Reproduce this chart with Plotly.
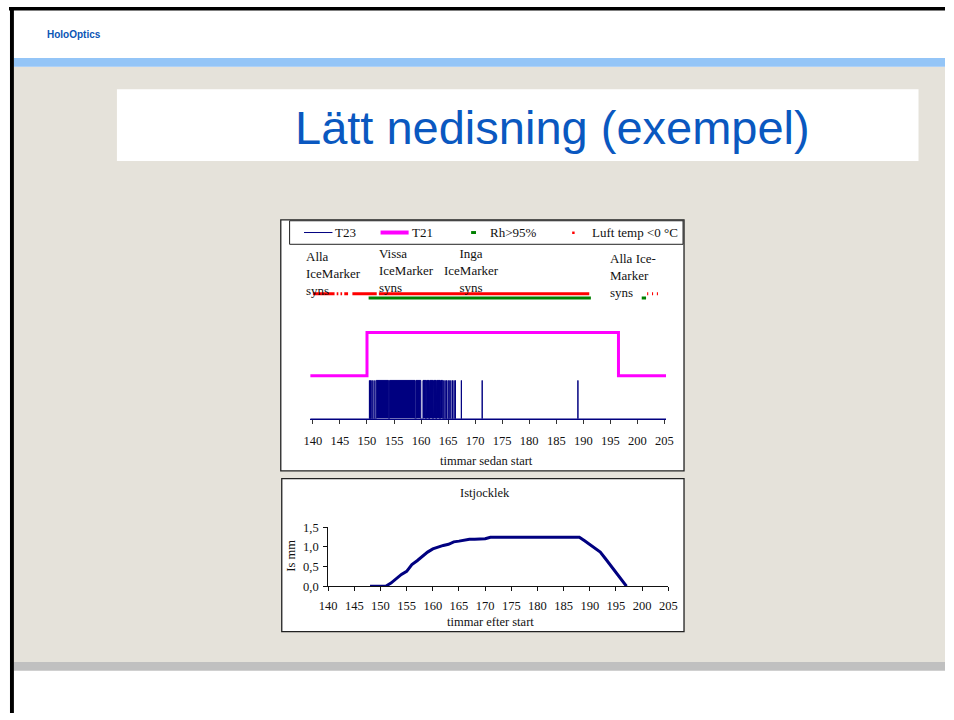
import plotly.graph_objects as go

W, H = 954, 720

# ---------------- data ----------------
hour_ticks = [140, 145, 150, 155, 160, 165, 170, 175, 180, 185, 190, 195, 200, 205]
hour_ticktext = [str(v) for v in hour_ticks]

# chart 1 signals (hours since start)
t23_spikes = [150.45, 150.65, 150.9, 151.1, 151.45, 164.2, 164.45, 164.7, 165.0, 165.2,
              165.5, 165.8, 166.1, 166.35, 167.45, 171.3, 189.0]
t23_blocks = [(151.7, 154.0), (154.15, 158.9), (159.05, 159.95), (160.35, 160.9),
              (161.0, 161.5), (161.6, 162.2), (162.3, 162.8), (162.9, 163.5), (163.6, 164.0)]
t23_level = 0.89
t21_on = (150.0, 196.5)
t21_low, t21_high = 1.0, 2.0
span = (139.5, 205.3)
rh_on = [(150.3, 191.4), (200.8, 201.6)]
rh_level = 2.8
luft_on = [(140.0, 144.0), (144.4, 144.7), (145.1, 145.4), (145.8, 146.5), (147.3, 151.8),
           (152.2, 191.1), (201.8, 202.0), (202.7, 202.9), (203.6, 203.8)]
luft_level = 2.9

# chart 2: ice thickness (mm)
ice_hours = [148, 149, 150, 151, 152, 153, 154, 155, 156, 157, 158, 159, 160, 161, 162, 163,
             164, 165, 166, 167, 168, 169, 170, 171, 172, 173, 174, 175, 176, 177, 178, 179,
             180, 181, 182, 183, 184, 185, 186, 187, 188, 189, 190, 191, 192, 193, 194, 195,
             196, 197]
ice_mm = [0, 0, 0, 0, 0.08, 0.19, 0.30, 0.38, 0.55, 0.65, 0.76, 0.87, 0.95, 1.00, 1.04, 1.07,
          1.13, 1.15, 1.17, 1.20, 1.20, 1.20, 1.21, 1.25, 1.25, 1.25, 1.25, 1.25, 1.25, 1.25,
          1.25, 1.25, 1.25, 1.25, 1.25, 1.25, 1.25, 1.25, 1.25, 1.25, 1.25, 1.16, 1.07, 0.98,
          0.87, 0.70, 0.53, 0.33, 0.16, 0.0]
ice_yticks = [0, 0.5, 1.0, 1.5]
ice_yticktext = ["0,0", "0,5", "1,0", "1,5"]

# ---------------- helpers ----------------
def X(x):
    return x / W

def Y(y):
    return 1 - y / H

SERIF = "Liberation Serif, Times New Roman, serif"
SANS = "Liberation Sans, Arial, sans-serif"
NAVY = "#000080"

fig = go.Figure()

# T23 as filled step signal
events = sorted([(s, s) for s in t23_spikes] + list(t23_blocks))
t23_x, t23_y = [span[0]], [0]
for a, b in events:
    t23_x += [a, a, b, b]
    t23_y += [0, t23_level, t23_level, 0]
t23_x.append(span[1]); t23_y.append(0)
fig.add_trace(go.Scatter(x=t23_x, y=t23_y, mode="lines", line=dict(color=NAVY, width=1),
                         fill="tozeroy", fillcolor=NAVY, xaxis="x", yaxis="y",
                         showlegend=False, hoverinfo="skip"))

# T21
t21_x = [span[0], t21_on[0], t21_on[0], t21_on[1], t21_on[1], span[1]]
t21_y = [t21_low, t21_low, t21_high, t21_high, t21_low, t21_low]
fig.add_trace(go.Scatter(x=t21_x, y=t21_y, mode="lines", line=dict(color="#FF00FF", width=3),
                         xaxis="x", yaxis="y", showlegend=False, hoverinfo="skip"))

def segs(pairs, level):
    xs, ys = [], []
    for a, b in pairs:
        xs += [a, b, None]
        ys += [level, level, None]
    return xs, ys

rx, ry = segs(rh_on, rh_level)
fig.add_trace(go.Scatter(x=rx, y=ry, mode="lines", line=dict(color="#008000", width=3),
                         xaxis="x", yaxis="y", showlegend=False, hoverinfo="skip"))
lx, ly = segs(luft_on, luft_level)
fig.add_trace(go.Scatter(x=lx, y=ly, mode="lines", line=dict(color="#FF0000", width=3),
                         xaxis="x", yaxis="y", showlegend=False, hoverinfo="skip"))

# chart 2
fig.add_trace(go.Scatter(x=ice_hours, y=ice_mm, mode="lines", line=dict(color=NAVY, width=3),
                         xaxis="x2", yaxis="y2", showlegend=False, hoverinfo="skip"))

# ---------------- shapes ----------------
shapes = []
def rect(x0, y0, x1, y1, fill, line=None, lw=0, layer="below"):
    d = dict(type="rect", xref="paper", yref="paper", x0=X(x0), x1=X(x1), y0=Y(y1), y1=Y(y0),
             fillcolor=fill, layer=layer, line=dict(width=lw, color=line or fill))
    shapes.append(d)

def hline(x0, x1, y, color, w):
    shapes.append(dict(type="line", xref="paper", yref="paper", x0=X(x0), x1=X(x1), y0=Y(y), y1=Y(y),
                       line=dict(color=color, width=w), layer="below"))

rect(5, 61, 954, 668, "#E5E2DA")
rect(5, 52, 954, 61, "#94C5F7")
rect(5, 668, 954, 677, "#C0C0C0")
rect(0, 0, 954, 3.5, "#000000")
rect(1, 0, 5, 720, "#000000")
rect(110, 84, 927, 157, "#FFFFFF")
rect(277, 217, 688, 473, "#FFFFFF", line="#222222", lw=1.3)
rect(278, 481, 688, 637, "#FFFFFF", line="#222222", lw=1.3)
rect(286, 218, 687, 242, "#FFFFFF", line="#222222", lw=1)
# legend symbols
hline(300.7, 329.7, 230, NAVY, 1)
hline(378.7, 407.3, 230, "#FF00FF", 4)
rect(471, 228.5, 476, 231.5, "#008000")
rect(574, 229, 576.5, 231.5, "#FF0000")

# ---------------- annotations ----------------
ann = []
def text(x, y, s, size, color="#111111", family=SERIF, xanchor="left", align="left", yanchor="middle", **kw):
    ann.append(dict(x=X(x), y=Y(y), xref="paper", yref="paper", text=s, showarrow=False,
                    font=dict(size=size, color=color, family=family), xanchor=xanchor,
                    yanchor=yanchor, align=align, **kw))

text(66, 28, "<b>HoloOptics</b>", 10, color="#0A55B5",
     family="Liberation Sans Narrow, Arial Narrow, Liberation Sans, Arial", xanchor="center")
text(554, 123, "Lätt nedisning (exempel)", 47, color="#0A58C0", family=SANS, xanchor="center")

text(330, 230, "T23", 13)
text(409, 230, "T21", 13)
text(488.5, 230, "Rh&gt;95%", 13)
text(592, 230, "Luft temp &lt;0 °C", 13)

text(300.5, 271.5, "Alla<br>IceMarker<br>syns", 13)
text(375.5, 268.8, "Vissa<br>IceMarker<br>syns", 13)
text(471.5, 268.8, "Inga<br>IceMarker<br>syns", 13, xanchor="center", align="center")
text(611, 273.4, "Alla Ice-<br>Marker<br>syns", 13)

text(487, 463, "timmar sedan start", 12.5, xanchor="center")
text(485, 496, "Istjocklek", 12.5, xanchor="center")
text(491, 627, "timmar efter start", 12.5, xanchor="center")
text(288, 560, "Is mm", 12.5, xanchor="center", textangle=-90)

tickfont = dict(family=SERIF, size=12.5, color="#111111")

fig.update_layout(
    autosize=True, margin=dict(l=0, r=0, t=0, b=0),
    paper_bgcolor="#FFFFFF", plot_bgcolor="rgba(0,0,0,0)",
    shapes=shapes, annotations=ann, showlegend=False,
    xaxis=dict(domain=[X(307), X(669.7)], range=list(span), tickvals=hour_ticks,
               ticktext=hour_ticktext, ticks="outside", ticklen=4, tickcolor="#333333",
               showline=True, linecolor=NAVY, linewidth=1, showgrid=False, zeroline=False,
               tickfont=tickfont, anchor="y", ticklabelstandoff=6),
    yaxis=dict(domain=[Y(420), Y(288)], range=[0, 3], visible=False, showgrid=False,
               zeroline=False, anchor="x"),
    xaxis2=dict(domain=[X(325.3), X(672)], range=[140, 205], tickvals=hour_ticks,
                ticktext=hour_ticktext, ticks="outside", ticklen=4, tickcolor="#111111",
                showline=True, linecolor="#111111", linewidth=1, showgrid=False, zeroline=False,
                tickfont=tickfont, anchor="y2", ticklabelstandoff=4),
    yaxis2=dict(domain=[Y(590.7), Y(530.7)], range=[0, 1.5], tickvals=ice_yticks,
                ticktext=ice_yticktext, ticks="outside", ticklen=4, tickcolor="#111111",
                showline=True, linecolor="#111111", linewidth=1, showgrid=False, zeroline=False,
                tickfont=tickfont, anchor="x2", ticklabelstandoff=2),
)

post = ("document.documentElement.style.margin='0';document.body.style.margin='0';"
        "document.documentElement.style.overflow='hidden';document.body.style.overflow='hidden';")
fig.write_html("out.html", config={"displayModeBar": False, "responsive": True},
               default_width="100vw", default_height="100vh", post_script=post)
